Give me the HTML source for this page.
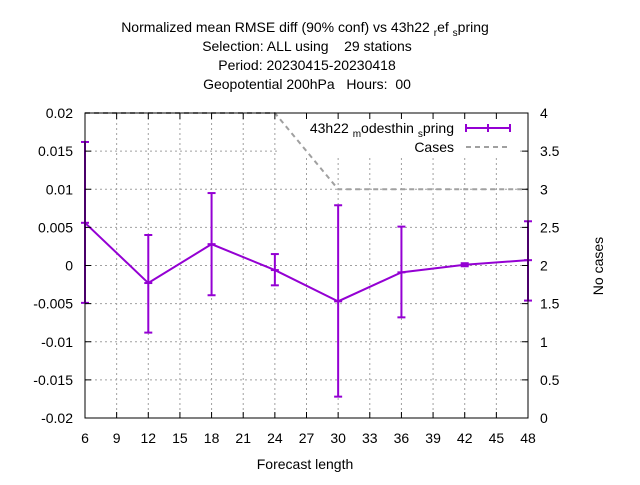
<!DOCTYPE html>
<html><head><meta charset="utf-8"><style>
body{margin:0;background:#fff}
svg text{font-family:"Liberation Sans",sans-serif;font-size:14px;fill:#000;white-space:pre}
</style></head><body>
<svg width="640" height="480">
<g id="grid"></g>
<g id="cases"></g>
<g id="main"></g>
<rect x="277" y="114" width="243" height="43" fill="#fff"/>
<g id="cases2"></g>
<rect x="85" y="113" width="443" height="305" fill="none" stroke="#000"/>
<g id="ticks"></g>
<g text-anchor="middle">
<text x="305" y="32">Normalized mean RMSE diff (90% conf) vs 43h22 <tspan font-size="10" dy="4">r</tspan><tspan dy="-4">ef </tspan><tspan font-size="10" dy="4">s</tspan><tspan dy="-4">pring</tspan></text>
<text x="307" y="51">Selection: ALL using    29 stations</text>
<text x="307" y="70">Period: 20230415-20230418</text>
<text x="307" y="89">Geopotential 200hPa   Hours:  00</text>
</g>
<text x="305" y="469" text-anchor="middle">Forecast length</text>
<text x="603" y="266" text-anchor="middle" transform="rotate(-90 603 266)">No cases</text>
<g>
<text x="454" y="133" text-anchor="end">43h22 <tspan font-size="10" dy="4">m</tspan><tspan dy="-4">odesthin </tspan><tspan font-size="10" dy="4">s</tspan><tspan dy="-4">pring</tspan></text>
<line x1="466" y1="128" x2="510" y2="128" stroke="#9400d3" stroke-width="2"/>
<line x1="466" y1="124" x2="466" y2="132" stroke="#9400d3" stroke-width="2"/>
<line x1="488" y1="124" x2="488" y2="132" stroke="#9400d3" stroke-width="2"/>
<line x1="510" y1="124" x2="510" y2="132" stroke="#9400d3" stroke-width="2"/>
<text x="454" y="152" text-anchor="end">Cases</text>
<line x1="466" y1="147" x2="510" y2="147" stroke="#a0a0a0" stroke-width="2" stroke-dasharray="5,4"/>
</g>
</svg>
<script>
const steps=[6,12,18,24,30,36,42,48];
const meanVals=[0.0056,-0.0023,0.0028,-0.0006,-0.0047,-0.0009,0.0001,0.0007];
const lowVals=[-0.0049,-0.0088,-0.0039,-0.0026,-0.0172,-0.0068,-0.0001,-0.0046];
const highVals=[0.0162,0.0040,0.0095,0.0015,0.0079,0.0051,0.0003,0.0058];
const caseVals=[4,4,4,4,3,3,3,3];
const xTicks=[6,9,12,15,18,21,24,27,30,33,36,39,42,45,48];
const yTicks=[-0.02,-0.015,-0.01,-0.005,0,0.005,0.01,0.015,0.02];
const yTickLabels=["-0.02","-0.015","-0.01","-0.005","0","0.005","0.01","0.015","0.02"];
const y2Ticks=[0,0.5,1,1.5,2,2.5,3,3.5,4];
const y2TickLabels=["0","0.5","1","1.5","2","2.5","3","3.5","4"];
const NS="http://www.w3.org/2000/svg";
const X=v=>85+(v-6)/42*443, Y=v=>418-(v+0.02)/0.04*305, Y2=v=>418-v/4*305;
function mk(t,a,p){const e=document.createElementNS(NS,t);for(const k in a)e.setAttribute(k,a[k]);p.appendChild(e);return e;}
const grid=document.getElementById('grid'),ticks=document.getElementById('ticks');
xTicks.forEach(t=>{const x=X(t);
 if(t>6&&t<48){const g=mk('line',{x1:x,x2:x,y1:113,y2:418,stroke:'#a0a0a0','stroke-dasharray':'2,3'},grid);}
 mk('line',{x1:x,x2:x,y1:418,y2:412,stroke:'#000'},ticks);mk('line',{x1:x,x2:x,y1:113,y2:119,stroke:'#000'},ticks);
 const l=mk('text',{x:x,y:443,'text-anchor':'middle'},ticks);l.textContent=t;});
yTicks.forEach((t,i)=>{const y=Y(t);
 if(i>0&&i<yTicks.length-1){const g=mk('line',{x1:85,x2:528,y1:y,y2:y,stroke:'#a0a0a0','stroke-dasharray':'2,3'},grid);}
 mk('line',{x1:85,x2:91,y1:y,y2:y,stroke:'#000'},ticks);
 const l=mk('text',{x:73,y:y+5,'text-anchor':'end'},ticks);l.textContent=yTickLabels[i];});
y2Ticks.forEach((t,i)=>{const y=Y2(t);mk('line',{x1:522,x2:528,y1:y,y2:y,stroke:'#000'},ticks);
 const l=mk('text',{x:540,y:y+5},ticks);l.textContent=y2TickLabels[i];});
const cg=document.getElementById('cases2');
const cl=mk('polyline',{points:steps.map((s,i)=>X(s)+','+Y2(caseVals[i])).join(' '),fill:'none',stroke:'#a0a0a0','stroke-width':2,'stroke-dasharray':'5,4'},cg);

const m=document.getElementById('main'),C='#9400d3';
const pl=mk('polyline',{points:steps.map((s,i)=>X(s)+','+Y(meanVals[i])).join(' '),fill:'none',stroke:C,'stroke-width':2},m);

steps.forEach((s,i)=>{const x=X(s),g=mk('g',{},m);
 
 mk('line',{x1:x,x2:x,y1:Y(lowVals[i]),y2:Y(highVals[i]),stroke:C,'stroke-width':2},g);
 [lowVals[i],highVals[i],meanVals[i]].forEach(v=>mk('line',{x1:x-4,x2:x+4,y1:Y(v),y2:Y(v),stroke:C,'stroke-width':2},g));});
</script>
</body></html>
